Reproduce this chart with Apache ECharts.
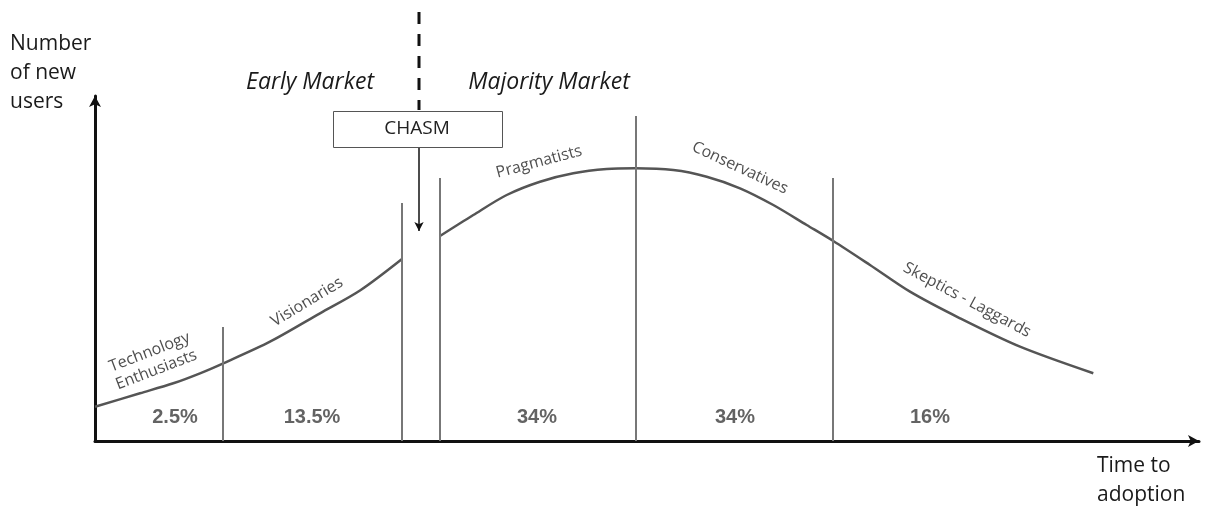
<!DOCTYPE html>
<html>
<head>
<meta charset="utf-8">
<script src="https://cdn.jsdelivr.net/npm/echarts@6/dist/echarts.min.js"></script>
<style>
html,body{margin:0;padding:0;background:#fff;}
#chart{width:1206px;height:506px;}
</style>
</head>
<body>
<div id="chart"></div>
<script>
// Curve before the chasm (time to adoption, number of new users)
const earlyCurveX = [0, 4.5, 7.83, 10.5, 12.83, 17.5, 22.5, 26.5, 30.7];
const earlyCurveY = [3.43, 4.77, 5.77, 6.77, 7.77, 9.93, 12.77, 15.05, 18.2];
// Curve after the chasm
const majorityCurveX = [34.5, 37.83, 41.17, 44.5, 47.83, 51.17, 54.0, 57.83, 61.17, 64.5, 67.83, 71.17, 73.83, 77.5, 81.5, 86.5, 92.5, 99.83];
const majorityCurveY = [20.5, 22.6, 24.6, 25.93, 26.77, 27.2, 27.27, 27.1, 26.43, 25.27, 23.6, 21.6, 20.0, 17.6, 14.93, 12.27, 9.43, 6.77];

// Segment dividers
const dividerX = [12.8, 30.7, 34.5, 54.1, 73.8];
const dividerTop = [11.4, 23.8, 26.3, 32.5, 26.3];

// Segment shares
const shareLabels = ['2.5%', '13.5%', '34%', '34%', '16%'];
const shareX = [8.0, 21.7, 44.2, 64.0, 83.5];
const shareY = [2.4, 2.4, 2.4, 2.4, 2.4];

// Adopter groups
const groupNames = ['Technology\nEnthusiasts', 'Visionaries', 'Pragmatists', 'Conservatives', 'Skeptics - Laggards'];
const groupX = [5.8, 21.2, 44.4, 64.5, 87.2];
const groupY = [8.0, 13.9, 27.9, 27.3, 14.1];
const groupAngle = [21, 31, 15, -25, -28];

// Chasm
const chasmLabel = 'CHASM';
const chasmX = 32.4;
const chasmBoxX = 32.2;
const chasmBoxY = 31.25;
const chasmDashTop = 42.9;
const chasmDashBottom = 33.1;
const chasmArrowTop = 29.45;
const chasmArrowBottom = 21.0;

const marketLabels = ['Early Market', 'Majority Market'];
const yAxisTitle = 'Number\nof new\nusers';
const xAxisTitle = 'Time to\nadoption';

const zip = (xs, ys) => xs.map((x, i) => [x, ys[i]]);

const chart = echarts.init(document.getElementById('chart'));
const curveStyle = { color: '#555', width: 2.5 };

chart.setOption({
  animation: false,
  backgroundColor: '#fff',
  grid: { left: 95, top: 96, width: 1104, height: 345 },
  xAxis: {
    type: 'value', min: 0, max: 110.4,
    axisLine: { show: true, symbol: ['none', 'arrow'], symbolSize: [9, 11], lineStyle: { color: '#111', width: 3 } },
    axisTick: { show: false }, axisLabel: { show: false }, splitLine: { show: false }
  },
  yAxis: {
    type: 'value', min: 0, max: 34.5,
    axisLine: { show: true, symbol: ['none', 'arrow'], symbolSize: [9, 11], lineStyle: { color: '#111', width: 3 } },
    axisTick: { show: false }, axisLabel: { show: false }, splitLine: { show: false }
  },
  graphic: [
    { type: 'text', left: 10, top: 30, style: { text: yAxisTitle, font: '21px "Open Sans"', lineHeight: 29, fill: '#1a1a1a' } },
    { type: 'text', left: 1097, top: 452, style: { text: xAxisTitle, font: '21px "Open Sans"', lineHeight: 29, fill: '#1a1a1a' } },
    { type: 'text', x: 310, y: 82, style: { text: marketLabels[0], font: 'italic 23px "Open Sans"', fill: '#1a1a1a', textAlign: 'center', textVerticalAlign: 'middle' } },
    { type: 'text', x: 549, y: 82, style: { text: marketLabels[1], font: 'italic 23px "Open Sans"', fill: '#1a1a1a', textAlign: 'center', textVerticalAlign: 'middle' } }
  ],
  series: [
    {
      type: 'line', data: zip(earlyCurveX, earlyCurveY), smooth: 0.3, showSymbol: false,
      lineStyle: curveStyle, z: 3
    },
    {
      type: 'line', data: zip(majorityCurveX, majorityCurveY), smooth: 0.3, showSymbol: false,
      lineStyle: curveStyle, z: 3,
      markLine: {
        silent: true, symbol: ['none', 'none'], label: { show: false },
        lineStyle: { color: '#777', width: 2, type: 'solid' },
        data: dividerX.map((x, i) => [{ coord: [x, 0] }, { coord: [x, dividerTop[i]] }])
      }
    },
    {
      type: 'line', data: [[chasmX, chasmDashTop], [chasmX, chasmDashBottom]], clip: false, showSymbol: false,
      lineStyle: { color: '#111', width: 3, type: [12, 10] }, z: 2,
      markLine: {
        silent: true, symbol: ['none', 'arrow'], symbolSize: [7, 9], label: { show: false },
        lineStyle: { color: '#111', width: 1.5, type: 'solid' },
        data: [[{ coord: [chasmX, chasmArrowTop] }, { coord: [chasmX, chasmArrowBottom] }]]
      }
    },
    {
      type: 'custom', z: 5, clip: false,
      data: [[chasmBoxX, chasmBoxY]],
      renderItem: function (params, api) {
        const c = api.coord([api.value(0), api.value(1)]);
        const w = 169, h = 36;
        const x0 = Math.round(c[0] - w / 2) + 0.5, y0 = Math.round(c[1] - h / 2) + 0.5;
        return {
          type: 'group',
          children: [
            { type: 'rect', shape: { x: x0, y: y0, width: w, height: h },
              style: { fill: '#fff', stroke: '#555', lineWidth: 1 } },
            { type: 'text', style: { x: c[0], y: c[1], text: chasmLabel, font: '19px "Open Sans"', fill: '#222',
              textAlign: 'center', textVerticalAlign: 'middle' } }
          ]
        };
      }
    },
    {
      type: 'scatter', symbolSize: 0, z: 6,
      data: shareX.map((x, i) => ({ value: [x, shareY[i]], name: shareLabels[i] })),
      label: { show: true, position: 'inside', formatter: p => p.name, color: '#3c3c3c', fontSize: 20, fontWeight: 'bold', fontFamily: 'Liberation Sans' }
    },
    {
      type: 'scatter', symbolSize: 0, z: 6,
      data: groupX.map((x, i) => ({ value: [x, groupY[i]], name: groupNames[i], label: { rotate: groupAngle[i] } })),
      label: { show: true, position: 'inside', formatter: p => p.name, color: '#222', fontSize: 16, lineHeight: 19, fontFamily: 'Open Sans' }
    }
  ]
});
</script>
</body>
</html>
